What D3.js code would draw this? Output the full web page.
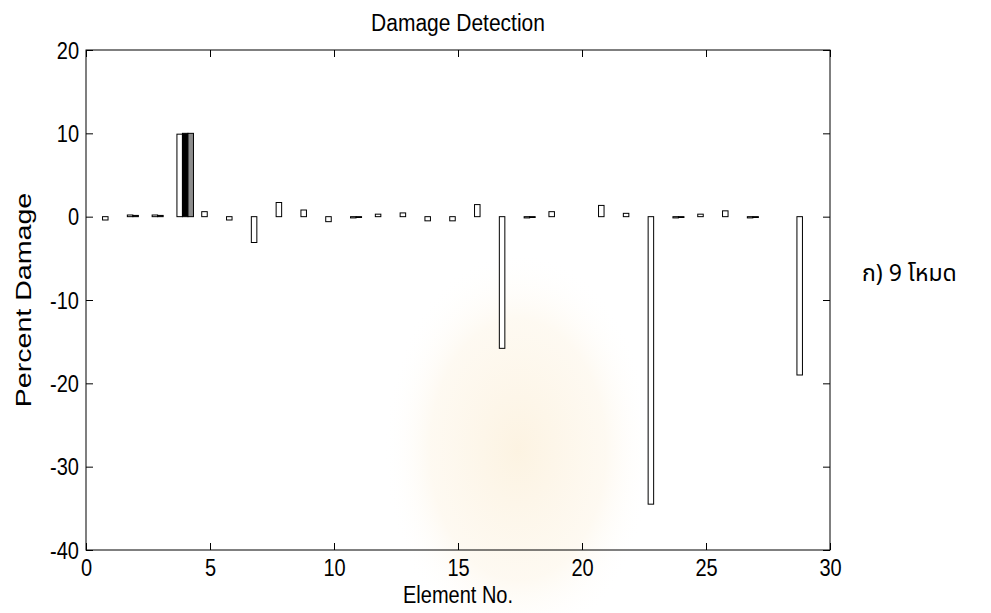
<!DOCTYPE html>
<html>
<head>
<meta charset="utf-8">
<script src="https://cdn.jsdelivr.net/npm/d3@7"></script>
<style>
  body { margin: 0; background: #fff; }
  svg { display: block; font-family: "Liberation Sans", Arial, Helvetica, sans-serif; }
</style>
</head>
<body>
<div id="chart"></div>
<script>
// element numbers along x
var elements = [1, 2, 3, 4, 5, 6, 7, 8, 9, 10, 11, 12, 13, 14, 15, 16, 17, 18, 19, 20, 21, 22, 23, 24, 25, 26, 27, 28, 29];

// percent damage, three runs per element (white, black, gray bars)
var run1 = [-0.4, 0.2, 0.2, 9.9, 0.6, -0.4, -3.1, 1.7, 0.8, -0.6, -0.15, 0.3, 0.45, -0.5, -0.5, 1.45, -15.8, -0.15, 0.6, 0, 1.35, 0.4, -34.5, -0.15, 0.3, 0.7, -0.15, 0, -19];
var run2 = [0, 0.15, 0.15, 10, 0, 0, 0, 0, 0, 0, -0.1, 0, 0, 0, 0, 0, 0, -0.1, 0, 0, 0, 0, 0, -0.1, 0, 0, -0.1, 0, 0];
var run3 = [0, 0, 0, 10, 0, 0, 0, 0, 0, 0, 0, 0, 0, 0, 0, 0, 0, 0, 0, 0, 0, 0, 0, 0, 0, 0, 0, 0, 0];

var xTicks = [0, 5, 10, 15, 20, 25, 30];
var yTicks = [-40, -30, -20, -10, 0, 10, 20];

var runFill = ['#ffffff', '#000000', '#8c8c8c'];

var margin, svg_dx, svg_dy, xScale, yScale, svg, plot, series, groupWidth, barWidth, tickLen, stretch;

svg_dx = 991;
svg_dy = 613;
margin = {top: 50, right: 161, bottom: 63, left: 86};
tickLen = 7;
// the figure text is a little taller than normal
stretch = 1.15;

xScale = d3.scaleLinear()
    .domain([0, 30])
    .range([margin.left, svg_dx - margin.right]);

yScale = d3.scaleLinear()
    .domain([-40, 20])
    .range([svg_dy - margin.bottom, margin.top]);

svg = d3.select('#chart')
    .append('svg')
    .attr('width', svg_dx)
    .attr('height', svg_dy);

// faint watermark behind the axes
var grad = svg.append('defs').append('radialGradient')
    .attr('id', 'wm');
grad.append('stop').attr('offset', '0%').attr('stop-color', '#f6d79e').attr('stop-opacity', 0.3);
grad.append('stop').attr('offset', '65%').attr('stop-color', '#fae6c2').attr('stop-opacity', 0.22);
grad.append('stop').attr('offset', '100%').attr('stop-color', '#ffffff').attr('stop-opacity', 0);

svg.append('ellipse')
    .attr('cx', 518)
    .attr('cy', 450)
    .attr('rx', 135)
    .attr('ry', 200)
    .attr('fill', 'url(#wm)');

// matlab style grouped bars: group is n/(n+1.5) wide
series = [run1, run2, run3];
groupWidth = series.length / (series.length + 1.5);
barWidth = groupWidth / series.length;

plot = svg.append('g');

series.forEach(function (vals, s) {
    plot.append('g')
        .selectAll('rect')
        .data(elements)
        .enter()
        .append('rect')
        .attr('x', function (e) { return xScale(e - groupWidth / 2 + s * barWidth); })
        .attr('width', function (e) { return xScale(barWidth) - xScale(0); })
        .attr('y', function (e, i) { return yScale(Math.max(0, vals[i])); })
        .attr('height', function (e, i) { return Math.abs(yScale(vals[i]) - yScale(0)); })
        .attr('fill', runFill[s])
        .attr('stroke', '#000')
        .attr('stroke-width', 1);
});

// axes, ticks point inward on all four sides
function plain(v) { return String(v); }

var xBottom = d3.axisBottom(xScale).tickValues(xTicks).tickSizeInner(-tickLen).tickSizeOuter(0).tickFormat(plain);
var xTop = d3.axisTop(xScale).tickValues(xTicks).tickSizeInner(-tickLen).tickSizeOuter(0).tickFormat('');
var yLeft = d3.axisLeft(yScale).tickValues(yTicks).tickSizeInner(-tickLen).tickSizeOuter(0).tickFormat(plain);
var yRight = d3.axisRight(yScale).tickValues(yTicks).tickSizeInner(-tickLen).tickSizeOuter(0).tickFormat('');

function styleAxis(g) {
    g.select('.domain').remove();
    g.selectAll('line').attr('stroke', '#000');
    g.selectAll('text')
        .attr('fill', '#000')
        .style('font-size', '20px')
        .style('font-family', '"Liberation Sans", Arial, sans-serif');
}

svg.append('g')
    .attr('transform', 'translate(0,' + (svg_dy - margin.bottom) + ')')
    .call(xBottom)
    .call(styleAxis)
    .selectAll('text')
    .attr('x', 0).attr('y', 0).attr('dy', null)
    .attr('transform', 'translate(0,26) scale(1,' + stretch + ')');

svg.append('g')
    .attr('transform', 'translate(0,' + margin.top + ')')
    .call(xTop)
    .call(styleAxis);

svg.append('g')
    .attr('transform', 'translate(' + margin.left + ',0)')
    .call(yLeft)
    .call(styleAxis)
    .selectAll('text')
    .attr('x', 0).attr('y', 0).attr('dy', null)
    .attr('transform', 'translate(-7,8.2) scale(1,' + stretch + ')');

svg.append('g')
    .attr('transform', 'translate(' + (svg_dx - margin.right) + ',0)')
    .call(yRight)
    .call(styleAxis);

// box
svg.append('rect')
    .attr('x', xScale(0))
    .attr('y', yScale(20))
    .attr('width', xScale(30) - xScale(0))
    .attr('height', yScale(-40) - yScale(20))
    .attr('fill', 'none')
    .attr('stroke', '#000')
    .attr('stroke-width', 1);

svg.append('text')
    .attr('transform', 'translate(' + ((xScale(0) + xScale(30)) / 2) + ',31) scale(1,' + stretch + ')')
    .attr('text-anchor', 'middle')
    .style('font-size', '21px')
    .text('Damage Detection');

svg.append('text')
    .attr('transform', 'translate(' + ((xScale(0) + xScale(30)) / 2) + ',603) scale(1,' + stretch + ')')
    .attr('text-anchor', 'middle')
    .style('font-size', '20px')
    .text('Element No.');

svg.append('text')
    .attr('transform', 'translate(31,' + yScale(-10) + ') rotate(-90) scale(1.3,1)')
    .attr('text-anchor', 'middle')
    .style('font-size', '22px')
    .text('Percent Damage');

svg.append('text')
    .attr('x', 862)
    .attr('y', 281)
    .style('font-size', '23px')
    .style('font-family', '"Noto Sans Thai", Tahoma, "DejaVu Sans", "Noto Sans", sans-serif')
    .text('ก) 9 โหมด');
</script>
</body>
</html>
